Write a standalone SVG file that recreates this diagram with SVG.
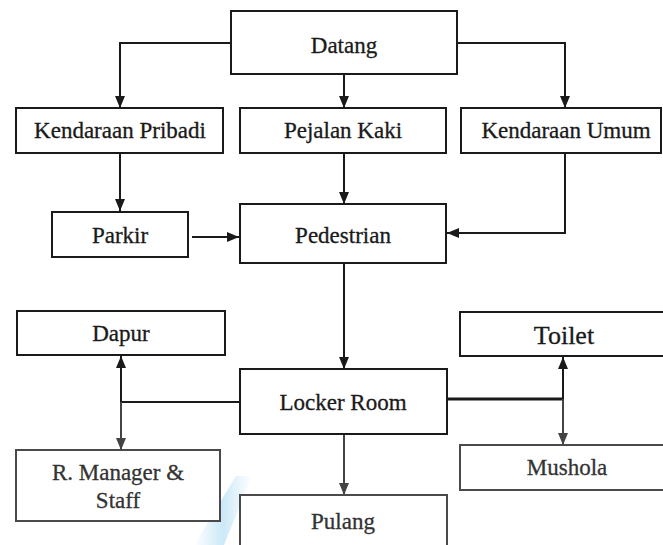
<svg xmlns="http://www.w3.org/2000/svg" width="663" height="545" viewBox="0 0 663 545">
  <style>
    .box { fill: #ffffff; stroke: #1a1a1a; stroke-width: 2; }
    .box.soft { stroke: #4a4a4a; }
    .lbl { font-family: "Liberation Serif", "Times New Roman", serif; font-size: 23px; fill: #1a1a1a; stroke: #1a1a1a; stroke-width: 0.3; text-anchor: middle; }
    .lbl.soft { fill: #333333; stroke: #333333; }
    .wire { fill: none; stroke: #1a1a1a; stroke-width: 2; }
    .wire.soft { stroke: #444444; }
    .wire.thick { stroke-width: 3; }
  </style>
  <defs>
    <marker id="arrow" viewBox="0 0 12 10" refX="12" refY="5" markerWidth="6" markerHeight="5" orient="auto" markerUnits="strokeWidth">
      <path d="M0,0 L12,5 L0,10 Z" fill="#1a1a1a"/>
    </marker>
    <marker id="arrowSoft" viewBox="0 0 12 10" refX="12" refY="5" markerWidth="6" markerHeight="5" orient="auto" markerUnits="strokeWidth">
      <path d="M0,0 L12,5 L0,10 Z" fill="#444444"/>
    </marker>
    <linearGradient id="streak" x1="0" y1="0" x2="1" y2="0">
      <stop offset="0" stop-color="#bfe3f6" stop-opacity="0"/>
      <stop offset="0.5" stop-color="#bfe3f6" stop-opacity="0.8"/>
      <stop offset="1" stop-color="#bfe3f6" stop-opacity="0"/>
    </linearGradient>
  </defs>

  <rect width="663" height="545" fill="#ffffff"/>

  <!-- faint blue streak near the bottom -->
  <polygon points="236,476 252,476 224,545 194,545" fill="url(#streak)"/>

  <!-- connectors -->
  <g id="connectors">
    <polyline class="wire" points="231,43 120,43 120,108" marker-end="url(#arrow)"/>
    <line class="wire" x1="344" y1="74" x2="344" y2="108" marker-end="url(#arrow)"/>
    <polyline class="wire" points="457,43 565,43 565,108" marker-end="url(#arrow)"/>
    <line class="wire" x1="120" y1="153" x2="120" y2="211" marker-end="url(#arrow)"/>
    <line class="wire" x1="344" y1="153" x2="344" y2="204" marker-end="url(#arrow)"/>
    <line class="wire" x1="192" y1="237" x2="239" y2="237" marker-end="url(#arrow)"/>
    <polyline class="wire" points="565,153 565,233 447,233" marker-end="url(#arrow)"/>
    <line class="wire" x1="344" y1="263" x2="344" y2="369" marker-end="url(#arrow)"/>
    <!-- Locker Room to Dapur / R. Manager & Staff -->
    <line class="wire" x1="240" y1="402" x2="121" y2="402"/>
    <line class="wire" x1="121" y1="402" x2="121" y2="356" marker-end="url(#arrow)"/>
    <line class="wire soft" x1="121" y1="402" x2="121" y2="450" marker-end="url(#arrowSoft)"/>
    <!-- Locker Room to Toilet / Mushola -->
    <line class="wire thick" x1="447" y1="399" x2="563" y2="399"/>
    <line class="wire" x1="563" y1="399" x2="563" y2="357" marker-end="url(#arrow)"/>
    <line class="wire soft" x1="563" y1="399" x2="563" y2="445" marker-end="url(#arrowSoft)"/>
    <line class="wire soft" x1="344" y1="434" x2="344" y2="495" marker-end="url(#arrowSoft)"/>
  </g>

  <g id="datang">
    <rect class="box" x="231" y="11" width="226" height="63"/>
    <text class="lbl" x="344" y="53">Datang</text>
  </g>
  <g id="kendaraan-pribadi">
    <rect class="box" x="16" y="108" width="207" height="45"/>
    <text class="lbl" x="120" y="138">Kendaraan Pribadi</text>
  </g>
  <g id="pejalan-kaki">
    <rect class="box" x="240" y="108" width="206" height="45"/>
    <text class="lbl" x="343" y="138">Pejalan Kaki</text>
  </g>
  <g id="kendaraan-umum">
    <rect class="box" x="461" y="108" width="200" height="45"/>
    <text class="lbl" x="566" y="138">Kendaraan Umum</text>
  </g>
  <g id="parkir">
    <rect class="box" x="52" y="212" width="136" height="45"/>
    <text class="lbl" x="120" y="243">Parkir</text>
  </g>
  <g id="pedestrian">
    <rect class="box" x="240" y="204" width="206" height="59"/>
    <text class="lbl" x="343" y="243">Pedestrian</text>
  </g>
  <g id="dapur">
    <rect class="box" x="17" y="311" width="208" height="44"/>
    <text class="lbl" x="121" y="341">Dapur</text>
  </g>
  <g id="toilet">
    <rect class="box" x="460" y="312" width="205" height="44"/>
    <text class="lbl" x="564" y="344" style="font-size:26px">Toilet</text>
  </g>
  <g id="locker-room">
    <rect class="box" x="240" y="369" width="207" height="65"/>
    <text class="lbl" x="343" y="410">Locker Room</text>
  </g>
  <g id="r-manager-staff">
    <rect class="box soft" x="16" y="450" width="204" height="71"/>
    <text class="lbl soft" x="118" y="480">R. Manager &amp;</text>
    <text class="lbl soft" x="118" y="508">Staff</text>
  </g>
  <g id="mushola">
    <rect class="box soft" x="460" y="445" width="205" height="45"/>
    <text class="lbl soft" x="567" y="475">Mushola</text>
  </g>
  <g id="pulang">
    <rect class="box soft" x="240" y="495" width="207" height="52"/>
    <text class="lbl soft" x="343" y="529">Pulang</text>
  </g>
</svg>
